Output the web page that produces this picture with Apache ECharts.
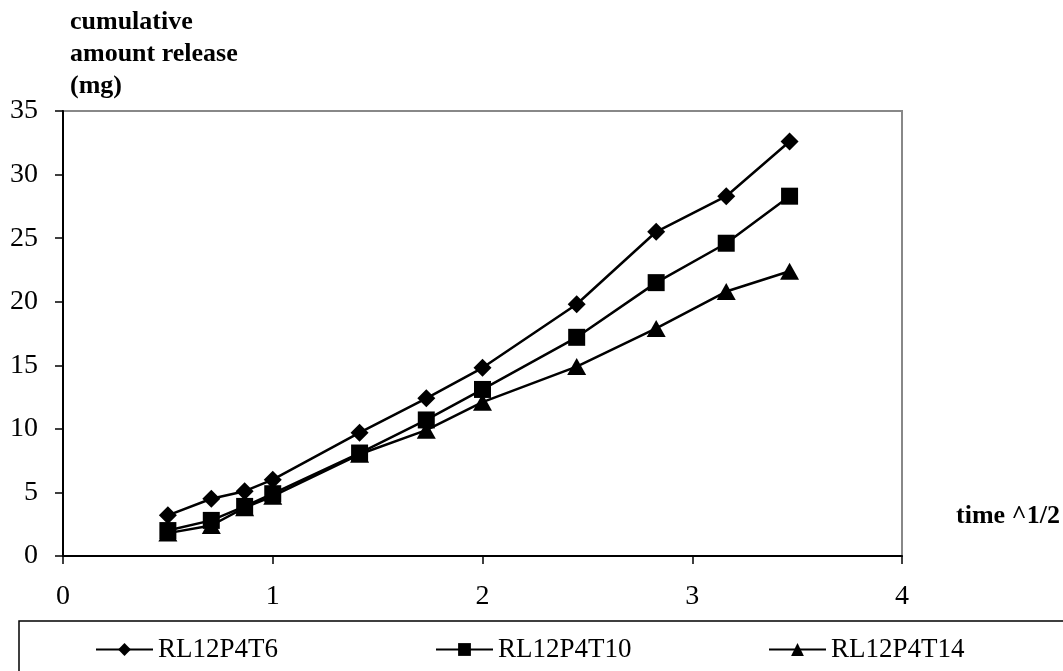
<!DOCTYPE html>
<html>
<head>
<meta charset="utf-8">
<script src="https://cdn.jsdelivr.net/npm/echarts@6/dist/echarts.min.js"></script>
<style>html,body{margin:0;padding:0;background:#fff}#c{width:1063px;height:671px}</style>
</head>
<body>
<div id="c"></div>
<script>
var timeSqrt = [0.5, 0.707, 0.866, 1, 1.414, 1.732, 2, 2.449, 2.828, 3.162, 3.464];
var t6  = [3.2, 4.5, 5.1, 6.0, 9.7, 12.4, 14.8, 19.8, 25.5, 28.3, 32.6];
var t10 = [2.0, 2.8, 3.9, 4.9, 8.1, 10.7, 13.1, 17.2, 21.5, 24.6, 28.3];
var t14 = [1.8, 2.4, 3.8, 4.7, 8.0, 9.9, 12.1, 14.9, 17.9, 20.8, 22.4];
var seriesNames = ['RL12P4T6', 'RL12P4T10', 'RL12P4T14'];
var yTitle = 'cumulative\namount release\n(mg)';
var xTitle = 'time ^1/2';

function pairs(ys){ return ys.map(function(v,i){ return [timeSqrt[i], v]; }); }

var font = 'Liberation Serif';
var chart = echarts.init(document.getElementById('c'));
var legendBase = {
  orient: 'horizontal', top: 631, itemWidth: 57, itemHeight: 16, itemGap: 5,
  textStyle: { fontFamily: font, fontSize: 27, color: '#000' }
};
chart.setOption({
  animation: false,
  backgroundColor: '#fff',
  grid: { left: 63, right: 161, top: 111, bottom: 115, show: true, borderColor: '#888', borderWidth: 2, backgroundColor: 'transparent' },
  xAxis: {
    type: 'value', min: 0, max: 4, interval: 1,
    axisLine: { show: true, lineStyle: { color: '#000', width: 2 } },
    axisTick: { show: true, inside: false, length: 8, lineStyle: { color: '#000', width: 1.5 } },
    axisLabel: { margin: 27, fontFamily: font, fontSize: 28, color: '#000' },
    splitLine: { show: false }
  },
  yAxis: {
    type: 'value', min: 0, max: 35, interval: 5,
    axisLine: { show: true, lineStyle: { color: '#000', width: 2 } },
    axisTick: { show: true, inside: false, length: 8, lineStyle: { color: '#000', width: 1.5 } },
    axisLabel: { margin: 25, fontFamily: font, fontSize: 28, color: '#000' },
    splitLine: { show: false }
  },
  legend: [
    Object.assign({}, legendBase, { left: 90, data: [seriesNames[0]] }),
    Object.assign({}, legendBase, { left: 430, data: [seriesNames[1]] }),
    Object.assign({}, legendBase, { left: 763, data: [seriesNames[2]] })
  ],
  graphic: [
    { type: 'rect', shape: { x: 19, y: 621, width: 1200, height: 200 }, style: { fill: 'none', stroke: '#000', lineWidth: 1.5 }, silent: true },
    { type: 'text', x: 70, y: 6, style: { text: yTitle, font: 'bold 26px "Liberation Serif"', lineHeight: 32, fill: '#000', textAlign: 'left', textVerticalAlign: 'top' } },
    { type: 'text', x: 956, y: 516, style: { text: xTitle, font: 'bold 26px "Liberation Serif"', fill: '#000', textAlign: 'left', textVerticalAlign: 'middle' } }
  ],
  series: [
    { name: seriesNames[0], type: 'line', data: pairs(t6), symbol: 'diamond', symbolSize: 18,
      lineStyle: { color: '#000', width: 2.5 }, itemStyle: { color: '#000' } },
    { name: seriesNames[1], type: 'line', data: pairs(t10), symbol: 'rect', symbolSize: 17,
      lineStyle: { color: '#000', width: 2.5 }, itemStyle: { color: '#000' } },
    { name: seriesNames[2], type: 'line', data: pairs(t14), symbol: 'triangle', symbolSize: [19, 17],
      lineStyle: { color: '#000', width: 2.5 }, itemStyle: { color: '#000' } }
  ]
});
</script>
</body>
</html>
